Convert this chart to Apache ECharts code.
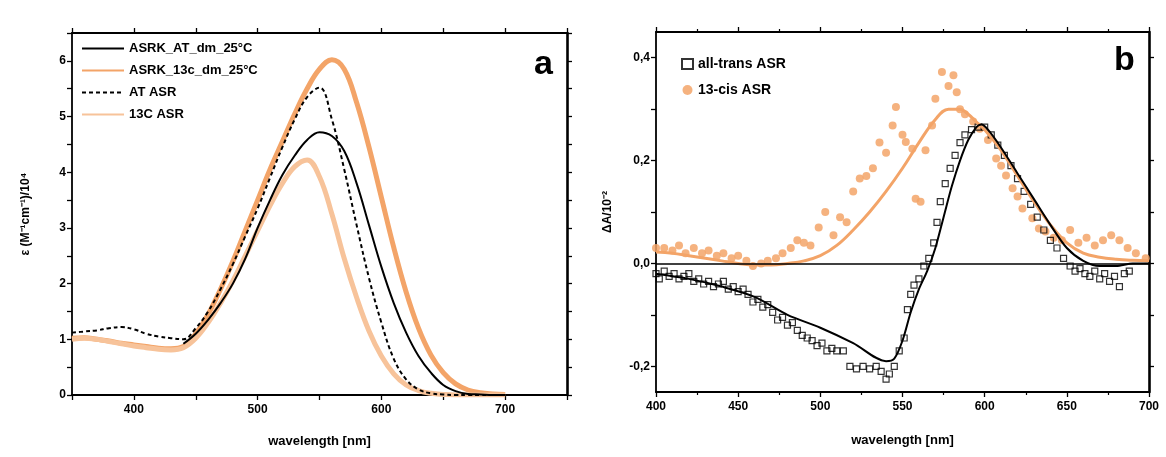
<!DOCTYPE html>
<html><head><meta charset="utf-8">
<script src="https://cdn.jsdelivr.net/npm/echarts@6/dist/echarts.min.js"></script>
<style>html,body{margin:0;padding:0;background:#fff}#c{width:1166px;height:457px}</style>
</head><body><div id="c"></div>
<script>
// ---------- Panel a data ----------
const wavelengthA = [350,360,370,380,390,400,410,420,430,440,450,460,470,480,490,500,510,520,530,540,550,560,570,580,590,600,610,620,630,640,650,660,670,680,690,700];
const asrkAT   = [null,null,null,null,null,null,null,null,null,0.92,1.1,1.35,1.65,2.0,2.45,3.0,3.5,3.95,4.3,4.58,4.72,4.65,4.38,3.8,3.05,2.3,1.65,1.12,0.7,0.4,0.18,0.07,0.02,0.01,0,0];
const asrk13c  = [1.02,1.03,1.0,0.97,0.93,0.9,0.87,0.84,0.83,0.87,1.1,1.45,1.9,2.4,2.95,3.5,4.05,4.55,5.05,5.5,5.85,6.02,5.85,5.25,4.45,3.55,2.65,1.85,1.2,0.72,0.4,0.2,0.09,0.04,0.02,0.01];
const atASR    = [1.12,1.14,1.16,1.2,1.22,1.18,1.1,1.05,1.02,1.0,1.2,1.5,1.9,2.35,2.85,3.35,3.9,4.45,4.95,5.35,5.52,4.95,4.05,3.05,2.1,1.3,0.65,0.28,0.1,0.03,0.01,0,0,0,0,0];
const cis13ASR = [1.0,1.02,1.0,0.96,0.92,0.88,0.85,0.82,0.81,0.85,1.02,1.3,1.65,2.05,2.5,2.95,3.4,3.8,4.1,4.22,3.92,3.25,2.45,1.75,1.15,0.7,0.38,0.18,0.08,0.03,0.01,0,0,0,0,0];
const legendA = ['ASRK_AT_dm_25°C','ASRK_13c_dm_25°C','AT ASR','13C ASR'];
const xTicksA = [400,500,600,700];
const yTicksA = [0,1,2,3,4,5,6];

// ---------- Panel b data ----------
const transX = [400,402,405,408,411,414,417,420,423,426,429,432,435,438,441,444,447,450,453,456,459,462,465,468,471,474,477,480,483,486,489,492,495,498,501,504,507,510,514,518,522,526,530,534,537,540,542,545,548,551,553,555,557,560,563,566,569,571,573,576,579,582,585,588,592,596,600,604,608,612,616,620,624,628,632,636,640,644,648,652,655,658,661,664,667,670,673,676,679,682,685,688];
const transY = [-0.02,-0.03,-0.015,-0.025,-0.02,-0.03,-0.025,-0.02,-0.035,-0.03,-0.04,-0.035,-0.045,-0.04,-0.035,-0.05,-0.045,-0.055,-0.05,-0.06,-0.075,-0.07,-0.085,-0.08,-0.095,-0.11,-0.105,-0.12,-0.115,-0.13,-0.14,-0.145,-0.15,-0.16,-0.155,-0.17,-0.165,-0.17,-0.17,-0.2,-0.205,-0.2,-0.205,-0.2,-0.21,-0.225,-0.215,-0.2,-0.17,-0.145,-0.09,-0.06,-0.042,-0.03,-0.005,0.01,0.04,0.08,0.12,0.155,0.185,0.21,0.235,0.25,0.26,0.265,0.265,0.25,0.23,0.21,0.19,0.165,0.14,0.115,0.09,0.065,0.045,0.03,0.01,-0.005,-0.015,-0.01,-0.02,-0.025,-0.015,-0.03,-0.02,-0.035,-0.025,-0.045,-0.02,-0.015];
const transFitX = [400,420,440,460,480,500,520,540,545,550,555,560,565,570,575,580,585,590,595,598,602,610,620,630,640,650,660,670,680,690,700];
const transFitY = [-0.02,-0.03,-0.045,-0.065,-0.1,-0.125,-0.155,-0.19,-0.185,-0.15,-0.095,-0.05,-0.015,0.03,0.09,0.15,0.2,0.24,0.265,0.27,0.26,0.225,0.175,0.125,0.075,0.03,0.005,-0.005,-0.005,0.0,0.0];
const cisX = [400,405,410,414,418,423,428,432,437,441,446,450,455,459,464,468,473,477,482,486,490,494,499,503,508,512,516,520,524,528,532,536,540,544,546,550,552,556,558,561,564,568,570,574,578,581,583,585,588,593,597,602,607,610,613,617,620,623,629,633,637,642,647,652,657,662,667,672,677,682,687,692,698];
const cisY = [0.03,0.03,0.025,0.035,0.02,0.03,0.02,0.025,0.015,0.02,0.01,0.015,0.005,-0.005,0.0,0.005,0.01,0.02,0.03,0.045,0.04,0.035,0.07,0.1,0.055,0.09,0.08,0.14,0.165,0.17,0.185,0.235,0.215,0.268,0.304,0.25,0.236,0.223,0.126,0.12,0.22,0.268,0.32,0.372,0.345,0.366,0.333,0.3,0.29,0.276,0.262,0.24,0.204,0.19,0.171,0.146,0.13,0.107,0.088,0.068,0.062,0.05,0.045,0.065,0.04,0.05,0.035,0.045,0.055,0.045,0.03,0.02,0.01];
const cisFitX = [400,410,420,430,440,450,460,470,480,490,500,510,520,530,540,550,560,570,578,585,590,595,600,610,620,630,640,650,660,670,680,690,700];
const cisFitY = [0.022,0.02,0.015,0.01,0.005,0.0,-0.003,-0.003,0.0,0.005,0.015,0.035,0.065,0.1,0.14,0.185,0.235,0.28,0.3,0.3,0.29,0.275,0.26,0.22,0.17,0.12,0.075,0.04,0.02,0.012,0.008,0.006,0.005];
const legendB = ['all-trans ASR','13-cis ASR'];
const xTicksB = [400,450,500,550,600,650,700];
const yLabelsB = [-0.2,0,0.2,0.4];
const yTicksB = [-0.2,-0.1,0,0.1,0.2,0.3,0.4];

const zip = (xs, ys) => xs.map((x,i)=>[x, ys[i]]);
const FONT = 'Liberation Sans, Arial, sans-serif';
const ORANGE1 = '#f3a468';
const ORANGE2 = '#f7c39a';

function frameAxis(base){ return Object.assign({
  axisLine:{show:true,onZero:false,lineStyle:{color:'#000',width:1.8}},
  axisTick:{show:true,length:5,lineStyle:{color:'#000',width:1.3}},
  splitLine:{show:false},
  axisLabel:{color:'#000',fontFamily:FONT,fontWeight:'bold',fontSize:12}
}, base); }

const chart = echarts.init(document.getElementById('c'), null, {renderer:'canvas'});
chart.setOption({
  animation:false,
  backgroundColor:'#fff',
  grid:[
    {left:72, right:599, top:33, bottom:62},
    {left:656, right:17, top:32, bottom:65}
  ],
  xAxis:[
    frameAxis({gridIndex:0,type:'value',min:350,max:750,interval:50,position:'bottom',
      name:'wavelength [nm]',nameLocation:'middle',nameGap:40,
      nameTextStyle:{color:'#000',fontFamily:FONT,fontWeight:'bold',fontSize:13},
      axisLabel:{color:'#000',fontFamily:FONT,fontWeight:'bold',fontSize:12,margin:9,
        formatter:v=> xTicksA.indexOf(v)>=0 ? String(v) : ''}}),
    frameAxis({gridIndex:0,type:'value',min:350,max:750,interval:50,position:'top',axisLabel:{show:false}}),
    frameAxis({gridIndex:1,type:'value',min:400,max:700,interval:50,position:'bottom',
      name:'wavelength [nm]',nameLocation:'middle',nameGap:42,
      nameTextStyle:{color:'#000',fontFamily:FONT,fontWeight:'bold',fontSize:13},
      minorTick:{show:true,splitNumber:2,length:3,lineStyle:{color:'#000',width:1.2}},
      axisLabel:{color:'#000',fontFamily:FONT,fontWeight:'bold',fontSize:12,margin:9,
        formatter:v=> xTicksB.indexOf(v)>=0 ? String(v) : ''}}),
    frameAxis({gridIndex:1,type:'value',min:400,max:700,interval:50,position:'top',axisLabel:{show:false},
      minorTick:{show:true,splitNumber:2,length:3,lineStyle:{color:'#000',width:1.2}}})
  ],
  yAxis:[
    frameAxis({gridIndex:0,type:'value',min:0,max:6.5,interval:0.5,position:'left',
      name:'ε (M⁻¹cm⁻¹)/10⁴',nameLocation:'middle',nameGap:40,nameRotate:90,
      nameTextStyle:{color:'#000',fontFamily:FONT,fontWeight:'bold',fontSize:12},
      axisLabel:{color:'#000',fontFamily:FONT,fontWeight:'bold',fontSize:12,margin:6,
        formatter:v=> yTicksA.indexOf(v)>=0 ? String(v) : ''}}),
    frameAxis({gridIndex:0,type:'value',min:0,max:6.5,interval:0.5,position:'right',axisLabel:{show:false},
      axisLine:{show:true,onZero:false,lineStyle:{color:'#000',width:2.6}}}),
    frameAxis({gridIndex:1,type:'value',min:-0.25,max:0.45,interval:0.05,position:'left',
      name:'ΔA/10⁻²',nameLocation:'middle',nameGap:42,nameRotate:90,
      nameTextStyle:{color:'#000',fontFamily:FONT,fontWeight:'bold',fontSize:12},
      axisTick:{show:true,length:5,customValues:yTicksB,lineStyle:{color:'#000',width:1.3}},
      axisLabel:{color:'#000',fontFamily:FONT,fontWeight:'bold',fontSize:12,margin:6,customValues:yLabelsB,
        formatter:v=> v.toFixed(1).replace('.',',')}}),
    frameAxis({gridIndex:1,type:'value',min:-0.25,max:0.45,interval:0.05,position:'right',axisLabel:{show:false},
      axisLine:{show:true,onZero:false,lineStyle:{color:'#000',width:2.6}},
      axisTick:{show:true,length:5,customValues:yTicksB,lineStyle:{color:'#000',width:1.3}}})
  ],
  legend:[
    {data:legendA.map(n=>({name:n})),orient:'vertical',left:76,top:37,itemWidth:42,itemHeight:12,itemGap:9,
     itemStyle:{opacity:0},
     textStyle:{color:'#000',fontFamily:FONT,fontWeight:'bold',fontSize:13}},
    {data:legendB.map(n=>({name:n})),orient:'vertical',left:676,top:52,itemWidth:11,itemHeight:10,itemGap:12,
     textStyle:{color:'#000',fontFamily:FONT,fontWeight:'bold',fontSize:14}}
  ],
  series:[
    {name:legendA[1],type:'line',xAxisIndex:0,yAxisIndex:0,data:zip(wavelengthA,asrk13c),smooth:0.4,symbol:'none',
     lineStyle:{color:ORANGE1,width:5},itemStyle:{color:ORANGE1}},
    {name:legendA[3],type:'line',xAxisIndex:0,yAxisIndex:0,data:zip(wavelengthA,cis13ASR),smooth:0.4,symbol:'none',
     lineStyle:{color:ORANGE2,width:5},itemStyle:{color:ORANGE2}},
    {name:legendA[0],type:'line',xAxisIndex:0,yAxisIndex:0,data:zip(wavelengthA,asrkAT),smooth:0.4,symbol:'none',connectNulls:false,
     lineStyle:{color:'#000',width:2},itemStyle:{color:'#000'}},
    {name:legendA[2],type:'line',xAxisIndex:0,yAxisIndex:0,data:zip(wavelengthA,atASR),smooth:0.4,symbol:'none',
     lineStyle:{color:'#000',width:2,type:[4,3]},itemStyle:{color:'#000'}},

    {name:'13-cis fit',type:'line',xAxisIndex:2,yAxisIndex:2,data:zip(cisFitX,cisFitY),smooth:0.4,symbol:'none',
     lineStyle:{color:ORANGE1,width:3},
     markLine:{silent:true,symbol:'none',label:{show:false},lineStyle:{color:'#000',width:1.5,type:'solid'},data:[{yAxis:0}]}},
    {name:legendB[1],type:'scatter',xAxisIndex:2,yAxisIndex:2,data:zip(cisX,cisY),symbol:'circle',symbolSize:8,
     itemStyle:{color:ORANGE1,opacity:0.85}},
    {name:'all-trans fit',type:'line',xAxisIndex:2,yAxisIndex:2,data:zip(transFitX,transFitY),smooth:0.3,symbol:'none',
     lineStyle:{color:'#000',width:2}},
    {name:legendB[0],type:'scatter',xAxisIndex:2,yAxisIndex:2,data:zip(transX,transY),symbol:'rect',symbolSize:6,
     itemStyle:{color:'rgba(255,255,255,0)',borderColor:'#000',borderWidth:1.2}}
  ],
  graphic:[
    {type:'text',left:534,top:48,style:{text:'a',fontFamily:FONT,fontWeight:'bold',fontSize:34,fill:'#000'}},
    {type:'text',left:1114,top:44,style:{text:'b',fontFamily:FONT,fontWeight:'bold',fontSize:34,fill:'#000'}}
  ]
});
</script></body></html>
